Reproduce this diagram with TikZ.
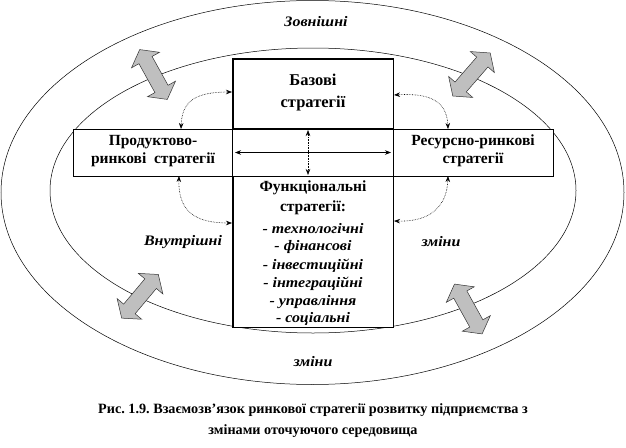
\documentclass[tikz,border=0pt]{standalone}
\usepackage{fontspec}
\setmainfont{Liberation Serif}
\newfontfamily\widefont[FakeStretch=1.1]{Liberation Serif}
\frenchspacing
\usetikzlibrary{arrows.meta,calc,shapes.geometric}
\newcommand{\grayarrow}[4]{%
  \begin{scope}[shift={(#1,#2)}, rotate=#3]
    \draw[garrow] (-#4/2,0) -- (-#4/2+12,16) -- (-#4/2+12,7.5) -- (#4/2-12,7.5) -- (#4/2-12,16)
      -- (#4/2,0) -- (#4/2-12,-16) -- (#4/2-12,-7.5) -- (-#4/2+12,-7.5) -- (-#4/2+12,-16) -- cycle;
  \end{scope}}
\begin{document}
\begin{tikzpicture}[x=1pt,y=-1pt,
  ell/.style={ellipse, draw, line width=0.5pt, inner sep=0pt},
  boxs/.style={draw, line width=0.6pt, fill=white, inner sep=0pt},
  garrow/.style={fill=black!25, draw=black!80, line width=0.5pt, line join=miter},
  dotarr/.style={densely dotted, line width=0.6pt, {Stealth[length=6pt,width=4.5pt]}-{Stealth[length=6pt,width=4.5pt]}},
  solarr/.style={line width=0.6pt, {Stealth[length=6pt,width=4.5pt]}-{Stealth[length=6pt,width=4.5pt]}},
  hd/.style={font=\bfseries\fontsize{15.5}{22}\selectfont, align=center, inner sep=0pt},
  hdw/.style={font=\bfseries\fontsize{15.5}{18}\selectfont, align=center, inner sep=0pt},
  itm/.style={font=\widefont\bfseries\itshape\fontsize{14.5}{16}\selectfont, inner sep=0pt},
  env/.style={font=\widefont\bfseries\itshape\fontsize{14.5}{18}\selectfont, inner sep=0pt},
  captxt/.style={font=\bfseries\fontsize{14.2}{21}\selectfont, inner sep=0pt}
]
\useasboundingbox (0,0) rectangle (626,447);
% ellipses
\node[ell, minimum width=623pt, minimum height=384pt] (outer) at (312.5,192.5) {};
\node[ell, minimum width=526pt, minimum height=285pt] (inner) at (313,190.5) {};
% gray double arrows
\grayarrow{153.5}{74.5}{-61}{57}
\grayarrow{471.5}{74.5}{49}{57}
\grayarrow{140}{296.3}{50}{57}
\grayarrow{468.3}{309}{-61}{57}
% boxes
\node[boxs, minimum width=160pt, minimum height=268pt] (cbox) at (313,193) {};
\node[boxs, minimum width=480pt, minimum height=47pt] (wbox) at (313,152.5) {};
\draw[line width=0.6pt] (cbox.north west) rectangle (cbox.south east);
\draw[line width=0.9pt] (cbox.west |- wbox.north) rectangle (cbox.east |- wbox.south);
% texts in boxes
\node[hd, font=\bfseries\fontsize{16.5}{22}\selectfont] (base) at (313,93) {Базові\\стратегії};
\node[hdw] (prod) at (153,151) {Продуктово-\\ринкові\ \ стратегії};
\node[hdw] (res) at (473,151) {Ресурсно-ринкові\\стратегії};
\node[hd] (f1) at (313,188) {Функціональні};
\node[hd] (f2) at (313,207.5) {стратегії:};
\node[itm] (i1) at (313,228.5) {- технологічні};
\node[itm] (i2) at (313,247) {- фінансові};
\node[itm] (i3) at (313,265.5) {- інвестиційні};
\node[itm] (i4) at (313,283.5) {- інтеграційні};
\node[itm] (i5) at (313,302) {- управління};
\node[itm] (i6) at (313,319) {- соціальні};
% environment labels
\node[env] (zovn) at (316,22) {Зовнішні};
\node[env] (vnutr) at (183,242) {Внутрішні};
\node[env] (zm1) at (441,242) {зміни};
\node[env] (zm2) at (313,362) {зміни};
% caption
\node[captxt] (cap1) at (313,410) {Рис. 1.9. Взаємозв’язок ринкової стратегії розвитку підприємства з};
\node[captxt] (cap2) at (313,431) {змінами оточуючого середовища};
% curved dotted connectors
\coordinate (tla) at (181,129);
\coordinate (tlb) at (232,92);
\coordinate (tra) at (394,95);
\coordinate (trb) at (448,129);
\coordinate (bla) at (179,176);
\coordinate (blb) at (232,223);
\coordinate (bra) at (394,221);
\coordinate (brb) at (448,176);
\draw[dotarr] (tla) .. controls (182,102) and (194,92) .. (tlb);
\draw[dotarr] (tra) .. controls (428,93) and (447,100) .. (trb);
\draw[dotarr] (bla) .. controls (178,212) and (196,223) .. (blb);
\draw[dotarr] (bra) .. controls (432,222) and (447,205) .. (brb);
% center connectors
\coordinate (hl) at (235,152.5);
\coordinate (hr) at (391,152.5);
\coordinate (vt) at (308,130);
\coordinate (vb) at (308,175);
\draw[solarr] (hl) -- (hr);
\draw[dotarr] (vt) -- (vb);
\end{tikzpicture}
\end{document}
